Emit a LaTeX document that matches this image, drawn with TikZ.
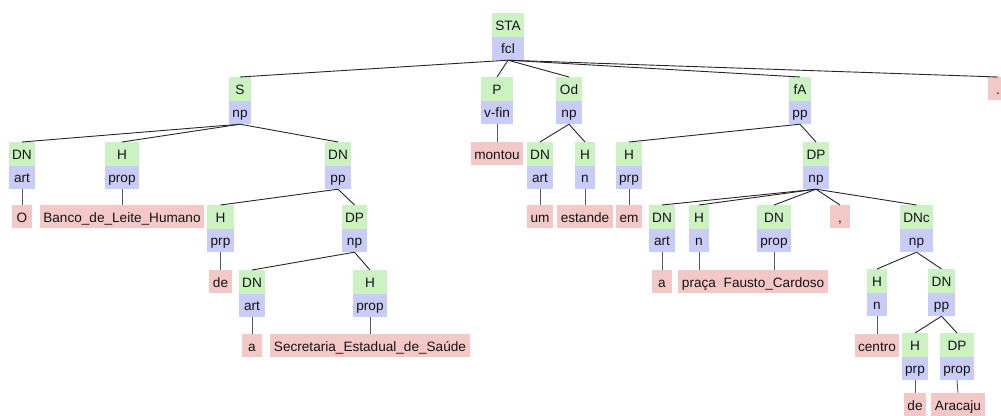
\documentclass[tikz,border=0pt]{standalone}
\usepackage{fontspec}
\setmainfont{Liberation Sans}
\usetikzlibrary{shapes.multipart}
\definecolor{gfill}{RGB}{204,242,196}
\definecolor{bfill}{RGB}{200,204,246}
\definecolor{rfill}{RGB}{245,200,200}
\definecolor{txt}{RGB}{20,20,20}
\newcommand{\st}{\rule[-6pt]{0pt}{23pt}}
\tikzset{
  pair/.style={rectangle split, rectangle split parts=2,
    rectangle split part fill={gfill,bfill}, inner xsep=3.5pt, inner ysep=0pt,
    minimum width=20pt, anchor=north, text=txt,
    font=\fontsize{13.6}{16}\selectfont},
  leaf/.style={fill=rfill, inner xsep=3.5pt, inner ysep=0pt, minimum width=20pt,
    anchor=north, text=txt, font=\fontsize{13.6}{16}\selectfont},
  br/.style={draw=black!85, line width=0.9pt},
  vl/.style={draw=black!65, line width=0.9pt}
}
\begin{document}
\begin{tikzpicture}[x=1pt,y=-1pt]
\useasboundingbox (0,0) rectangle (1001,415);
% level 0
\node[pair] (sta) at (508,13) {\st STA\nodepart{two}\st fcl};
% level 1
\node[pair] (s) at (240,77) {\st S\nodepart{two}\st np};
\node[pair] (p) at (497,77) {\st P\nodepart{two}\st v-fin};
\node[pair] (od) at (569,77) {\st Od\nodepart{two}\st np};
\node[pair] (fa) at (800,77) {\st fA\nodepart{two}\st pp};
\node[leaf] (dot) at (998,77) {\st.};
% level 2
\node[pair] (sdn) at (22,142) {\st DN\nodepart{two}\st art};
\node[pair] (sh) at (122,142) {\st H\nodepart{two}\st prop};
\node[pair] (sdnpp) at (338,142) {\st DN\nodepart{two}\st pp};
\node[leaf] (lmontou) at (497,142) {\st montou};
\node[pair] (odn) at (540,142) {\st DN\nodepart{two}\st art};
\node[pair] (oh) at (585,142) {\st H\nodepart{two}\st n};
\node[pair] (fh) at (629,142) {\st H\nodepart{two}\st prp};
\node[pair] (fdp) at (816,142) {\st DP\nodepart{two}\st np};
% level 3
\node[leaf] (lO) at (22,205) {\st O};
\node[leaf] (lbanco) at (122,205) {\st Banco\_de\_Leite\_Humano};
\node[pair] (ph) at (220.5,205) {\st H\nodepart{two}\st prp};
\node[pair] (pdp) at (354.5,205) {\st DP\nodepart{two}\st np};
\node[leaf] (lum) at (540,205) {\st um};
\node[leaf] (lestande) at (585,205) {\st estande};
\node[leaf] (lem) at (629,205) {\st em};
\node[pair] (adn) at (662,205) {\st DN\nodepart{two}\st art};
\node[pair] (ah) at (699,205) {\st H\nodepart{two}\st n};
\node[pair] (adn2) at (774,205) {\st DN\nodepart{two}\st prop};
\node[leaf] (lcomma) at (840,205) {\st,};
\node[pair] (dnc) at (916.5,205) {\st DNc\nodepart{two}\st np};
% level 4
\node[leaf] (lde1) at (220.5,270) {\st de};
\node[pair] (bdn) at (252,270) {\st DN\nodepart{two}\st art};
\node[pair] (bh) at (370,270) {\st H\nodepart{two}\st prop};
\node[leaf] (la2) at (662,270) {\st a};
\node[leaf] (lpraca) at (699,270) {\st praça};
\node[leaf] (lfausto) at (774,270) {\st Fausto\_Cardoso};
\node[pair] (ch) at (877,269) {\st H\nodepart{two}\st n};
\node[pair] (cdn) at (941.5,269) {\st DN\nodepart{two}\st pp};
% level 5
\node[leaf] (la1) at (252,334) {\st a};
\node[leaf] (lsec) at (370,334) {\st Secretaria\_Estadual\_de\_Saúde};
\node[leaf] (lcentro) at (877,334) {\st centro};
\node[pair] (dh) at (915,333) {\st H\nodepart{two}\st prp};
\node[pair] (ddp) at (957,333) {\st DP\nodepart{two}\st prop};
% level 6
\node[leaf] (lde2) at (915,393) {\st de};
\node[leaf] (laracaju) at (958,393) {\st Aracaju};
% branches
\foreach \c in {s,p,od,fa,dot} \draw[br] (sta.south) -- (\c.north);
\foreach \c in {sdn,sh,sdnpp} \draw[br] (s.south) -- (\c.north);
\foreach \c in {ph,pdp} \draw[br] (sdnpp.south) -- (\c.north);
\foreach \c in {bdn,bh} \draw[br] (pdp.south) -- (\c.north);
\foreach \c in {odn,oh} \draw[br] (od.south) -- (\c.north);
\foreach \c in {fh,fdp} \draw[br] (fa.south) -- (\c.north);
\foreach \c in {adn,ah,adn2,lcomma,dnc} \draw[br] (fdp.south) -- (\c.north);
\foreach \c in {ch,cdn} \draw[br] (dnc.south) -- (\c.north);
\foreach \c in {dh,ddp} \draw[br] (cdn.south) -- (\c.north);
% leaf lines
\draw[vl] (sdn.south) -- (lO.north);
\draw[vl] (sh.south) -- (lbanco.north);
\draw[vl] (ph.south) -- (lde1.north);
\draw[vl] (bdn.south) -- (la1.north);
\draw[vl] (bh.south) -- (lsec.north);
\draw[vl] (p.south) -- (lmontou.north);
\draw[vl] (odn.south) -- (lum.north);
\draw[vl] (oh.south) -- (lestande.north);
\draw[vl] (fh.south) -- (lem.north);
\draw[vl] (adn.south) -- (la2.north);
\draw[vl] (ah.south) -- (lpraca.north);
\draw[vl] (adn2.south) -- (lfausto.north);
\draw[vl] (ch.south) -- (lcentro.north);
\draw[vl] (dh.south) -- (lde2.north);
\draw[vl] (ddp.south) -- (laracaju.north);
\end{tikzpicture}
\end{document}
